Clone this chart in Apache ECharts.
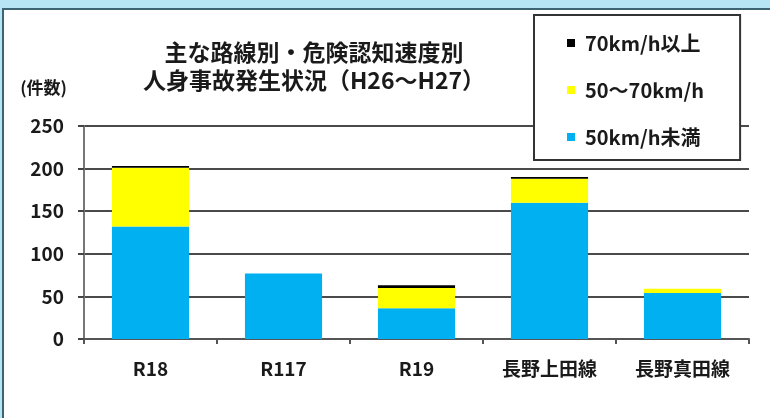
<!DOCTYPE html>
<html>
<head>
<meta charset="utf-8">
<script src="https://cdn.jsdelivr.net/npm/echarts@6/dist/echarts.min.js"></script>
<style>
  html, body { margin: 0; padding: 0; background: #b8e5f4; overflow: hidden; }
  #frame { position: absolute; left: 2px; top: 8px; width: 800px; height: 430px; background: #ffffff;
           border-left: 2px solid #3d6472; border-top: 2px solid #3d6472; }
  #chart { position: absolute; left: 0; top: 0; width: 770px; height: 418px; }
</style>
</head>
<body>
<div id="frame"></div>
<div id="chart"></div>
<script>
const categories = ['R18', 'R117', 'R19', '長野上田線', '長野真田線'];
const under50 = [132, 77, 36, 160, 54];
const from50to70 = [69, 0, 24, 28, 5];
const over70 = [2, 0, 3, 2, 0];
const seriesNames = ['50km/h未満', '50～70km/h', '70km/h以上'];
const yTicks = { min: 0, max: 250, interval: 50 };
const titleLines = ['主な路線別・危険認知速度別', '人身事故発生状況（H26～H27）'];
const yUnit = '(件数)';

const FONT = '"Noto Sans CJK JP", "Noto Sans", sans-serif';
const chart = echarts.init(document.getElementById('chart'), null, { renderer: 'canvas' });
chart.setOption({
  backgroundColor: 'transparent',
  animation: false,
  title: {
    text: titleLines.join('\n'),
    left: 309, top: 33,
    textAlign: 'center',
    textStyle: { fontFamily: FONT, fontSize: 23, fontWeight: 'bold', color: '#1a1a1a', lineHeight: 28 }
  },
  legend: {
    orient: 'vertical',
    left: 534, top: 15,
    data: [seriesNames[2], seriesNames[1], seriesNames[0]],
    icon: 'rect', itemWidth: 8, itemHeight: 8, itemGap: 27,
    padding: [18, 36, 13, 33],
    backgroundColor: '#ffffff',
    borderColor: '#333333', borderWidth: 2,
    textStyle: { fontFamily: FONT, fontSize: 20, fontWeight: 'bold', color: '#1a1a1a', padding: [0, 0, 0, 5] }
  },
  grid: { left: 84, right: 21, top: 126, bottom: 79, containLabel: false },
  xAxis: {
    type: 'category', data: categories,
    axisLine: { lineStyle: { color: '#555555', width: 2 } },
    axisTick: { show: true, alignWithLabel: false, interval: 0, length: 5, lineStyle: { color: '#555555', width: 2 } },
    axisLabel: { interval: 0, margin: 20, fontFamily: FONT, fontSize: 19, fontWeight: 'bold', color: '#1a1a1a' }
  },
  yAxis: {
    type: 'value', min: yTicks.min, max: yTicks.max, interval: yTicks.interval,
    name: yUnit, nameLocation: 'end', nameGap: 30,
    nameTextStyle: { fontFamily: FONT, fontSize: 17, fontWeight: 'bold', color: '#1a1a1a', align: 'right', padding: [0, 17, 0, 0] },
    axisLine: { show: true, lineStyle: { color: '#777777', width: 2 } },
    axisTick: { show: true, length: 6, lineStyle: { color: '#444444', width: 2 } },
    axisLabel: { margin: 20, fontFamily: FONT, fontSize: 19, fontWeight: 'bold', color: '#1a1a1a' },
    splitLine: { show: true, lineStyle: { color: '#4a4a4a', width: 2 } }
  },
  series: [
    { name: seriesNames[0], type: 'bar', stack: 'total', data: under50, barCategoryGap: '42%', itemStyle: { color: '#00b0f0' } },
    { name: seriesNames[1], type: 'bar', stack: 'total', data: from50to70, itemStyle: { color: '#ffff00' } },
    { name: seriesNames[2], type: 'bar', stack: 'total', data: over70, itemStyle: { color: '#000000' } }
  ]
});
</script>
</body>
</html>
